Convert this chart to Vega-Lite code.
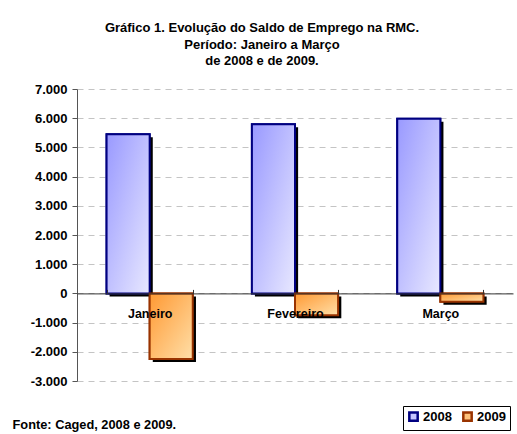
{
  "$schema": "https://vega.github.io/schema/vega-lite/v6.json",
  "width": 436,
  "height": 292,
  "autosize": {"type": "none"},
  "padding": {"left": 77, "top": 89, "right": 4, "bottom": 53},
  "config": {
    "font": "Liberation Sans",
    "view": {"stroke": null},
    "locale": {"number": {"decimal": ",", "thousands": ".", "grouping": [3], "currency": ["R$", ""], "minus": "-"}}
  },
  "title": {
    "text": ["Gráfico 1. Evolução do Saldo de Emprego na RMC.", "Período: Janeiro a Março", "de 2008 e de 2009."],
    "fontSize": 13,
    "fontWeight": "bold",
    "color": "black",
    "anchor": "middle",
    "dx": -33,
    "lineHeight": 16.5,
    "offset": 15
  },
  "data": {
    "values": [
      {"mes": "Janeiro", "ano": "2008", "saldo": 5450},
      {"mes": "Janeiro", "ano": "2009", "saldo": -2250},
      {"mes": "Fevereiro", "ano": "2008", "saldo": 5790},
      {"mes": "Fevereiro", "ano": "2009", "saldo": -750},
      {"mes": "Março", "ano": "2008", "saldo": 5980},
      {"mes": "Março", "ano": "2009", "saldo": -290}
    ]
  },
  "encoding": {
    "x": {
      "field": "mes",
      "type": "nominal",
      "sort": ["Janeiro", "Fevereiro", "Março"],
      "scale": {"paddingInner": 0.407, "paddingOuter": 0.2035},
      "axis": {
        "orient": "bottom",
        "offset": -87.6,
        "zindex": 1,
        "labelAngle": 0,
        "labelFontSize": 12.5,
        "labelFontWeight": "bold",
        "labelColor": "black",
        "labelPadding": 18,
        "tickBand": "extent",
        "tickSize": -4,
        "tickColor": "#333333",
        "domainColor": "#333333",
        "grid": false,
        "title": "Fonte: Caged, 2008 e 2009.",
        "titleFontSize": 12.8,
        "titleFontWeight": "bold",
        "titleColor": "black",
        "titleAnchor": "start",
        "titleAlign": "left",
        "titleBaseline": "alphabetic",
        "titleX": -65,
        "titleY": 134.6
      }
    },
    "xOffset": {"field": "ano", "type": "nominal", "sort": ["2008", "2009"], "scale": {"domain": ["2008", "2009"], "paddingInner": 0, "paddingOuter": 0}},
    "y": {
      "field": "saldo",
      "type": "quantitative",
      "scale": {"domain": [-3000, 7000], "nice": false},
      "axis": {
        "values": [-3000, -2000, -1000, 0, 1000, 2000, 3000, 4000, 5000, 6000, 7000],
        "format": ",d",
        "title": null,
        "labelFontSize": 13,
        "labelFontWeight": "bold",
        "labelColor": "black",
        "labelPadding": 5,
        "tickSize": 5,
        "tickColor": "#555555",
        "domainColor": "#555555",
        "gridColor": "#C4C4C4",
        "gridDash": [6, 5]
      }
    }
  },
  "layer": [
    {
      "mark": {"type": "bar", "strokeWidth": 2},
      "encoding": {
        "fill": {
          "field": "ano",
          "type": "nominal",
          "scale": {"domain": ["2008", "2009"], "range": ["#C4C4FF", "#FFC27A"]},
          "legend": {
            "orient": "none",
            "legendX": 326,
            "legendY": 317,
            "direction": "horizontal",
            "title": null,
            "strokeColor": "black",
            "padding": 4,
            "symbolType": "square",
            "symbolSize": 70,
            "symbolStrokeWidth": 2.5,
            "symbolOpacity": 1,
            "labelFontSize": 13,
            "labelFontWeight": "bold",
            "labelColor": "black",
            "labelOffset": 3,
            "columnPadding": 6
          }
        },
        "stroke": {
          "field": "ano",
          "type": "nominal",
          "scale": {"domain": ["2008", "2009"], "range": ["#000080", "#993300"]}
        }
      }
    },
    {
      "mark": {"type": "bar", "fill": "black", "yOffset": 3},
      "encoding": {
        "xOffset": {"field": "ano", "type": "nominal", "sort": ["2008", "2009"], "scale": {"domain": ["2008", "2009"], "range": [3, 89.4], "paddingInner": 0, "paddingOuter": 0}}
      }
    },
    {
      "transform": [{"filter": "datum.ano === '2008'"}],
      "mark": {
        "type": "bar",
        "strokeWidth": 2,
        "stroke": "#000080",
        "fill": {"gradient": "linear", "x1": 0, "y1": 0, "x2": 1, "y2": 1, "stops": [{"offset": 0, "color": "#9999FF"}, {"offset": 1, "color": "#E8E8FF"}]}
      }
    },
    {
      "transform": [{"filter": "datum.ano === '2009'"}],
      "mark": {
        "type": "bar",
        "strokeWidth": 2,
        "stroke": "#993300",
        "fill": {"gradient": "linear", "x1": 0, "y1": 0, "x2": 1, "y2": 1, "stops": [{"offset": 0, "color": "#FF9933"}, {"offset": 1, "color": "#FFDFA8"}]}
      }
    }
  ],
  "resolve": {"scale": {"xOffset": "independent"}}
}
